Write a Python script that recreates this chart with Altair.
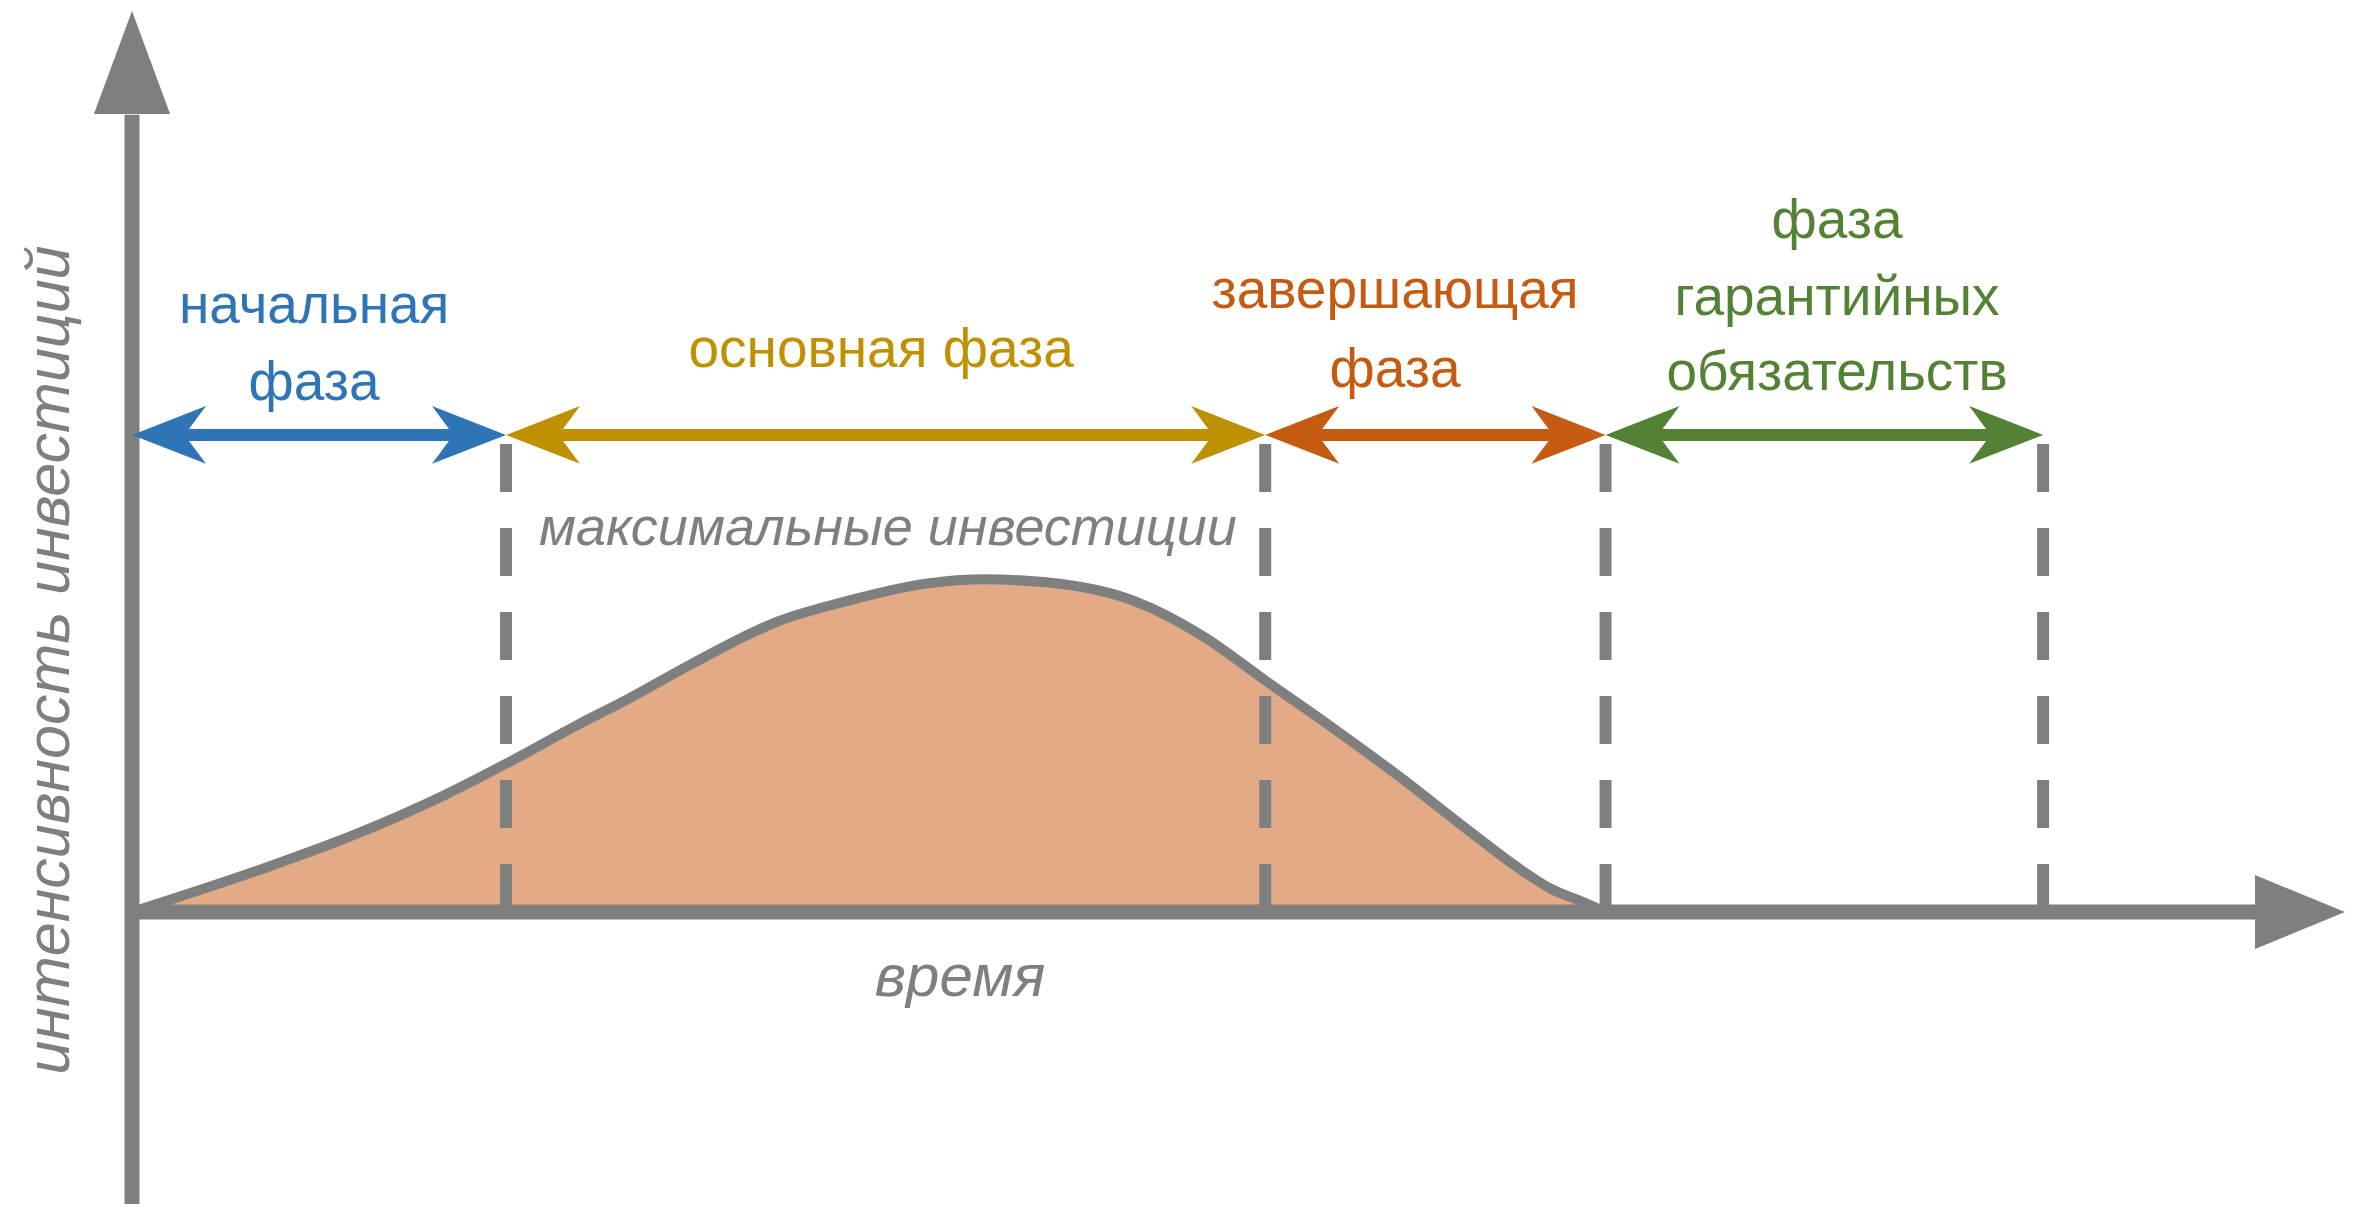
import altair as alt
import pandas as pd

# ---------------- data ----------------
# investment-intensity curve (time units: phase 1 ends at 10; intensity: peak ~100)
curve_time = [0.0, 3.61, 6.02, 8.39, 9.99, 11.99, 13.32, 14.93, 17.29, 19.06, 21.23, 22.79,
              24.44, 26.84, 28.65, 30.33, 32.10, 33.91, 35.71, 37.04, 37.92, 38.80, 39.40]
curve_intensity = [0.0, 13.5, 23.6, 35.4, 44.6, 56.8, 64.5, 74.5, 87.6, 93.5, 98.9, 100.2,
                   99.3, 93.5, 83.0, 69.5, 55.5, 40.6, 24.8, 13.5, 7.1, 3.0, 0.0]

phase_names = ["начальная фаза", "основная фаза", "завершающая фаза", "фаза гарантийных обязательств"]
phase_start = [0.0, 10.0, 30.3, 39.4]
phase_end = [10.0, 30.3, 39.4, 51.1]
phase_colors = ["#2E75B6", "#BF9000", "#C55A11", "#548235"]

label_text = ["начальная", "фаза", "основная фаза", "завершающая", "фаза",
              "фаза", "гарантийных", "обязательств"]
label_phase = [0, 0, 1, 2, 2, 3, 3, 3]
label_time = [4.87, 4.87, 20.03, 33.77, 33.77, 45.59, 45.59, 45.59]
label_level = [177.4, 154.2, 164.2, 181.9, 158.1, 203.0, 179.8, 157.2]

ARROW_LEVEL = 143.7
DASH_TOP = 141.0

note_text = ["максимальные инвестиции", "время"]
note_time = [20.21, 22.14]
note_level = [110.5, -25.3]
note_size = [54, 60]

y_title = "интенсивность инвестиций"
y_title_time = -1.68
y_title_level = 75.9

# ---------------- layout ----------------
W, H = 2337, 1196
T_MIN, T_MAX = -3.3155, 59.171
I_MIN, I_MAX = -87.95, 272.29
px_t = W / (T_MAX - T_MIN)
px_i = H / (I_MAX - I_MIN)

GRAY = "#7F7F7F"
FILL = "#E2AA85"
FONT = "Liberation Sans, Arial, sans-serif"

xs = alt.Scale(domain=[T_MIN, T_MAX], nice=False, zero=False)
ys = alt.Scale(domain=[I_MIN, I_MAX], nice=False, zero=False)
X = lambda f: alt.X(f, type="quantitative", scale=xs, axis=None)
Y = lambda f: alt.Y(f, type="quantitative", scale=ys, axis=None)
color_scale = alt.Scale(domain=phase_names, range=phase_colors)
C = lambda: alt.Color("phase:N", scale=color_scale, legend=None)

curve = pd.DataFrame({"t": curve_time, "i": curve_intensity})
phases = pd.DataFrame({"phase": phase_names, "start": phase_start, "end": phase_end,
                       "level": [ARROW_LEVEL] * 4})
bounds = pd.DataFrame({"t": phase_end, "top": [DASH_TOP] * 4, "bottom": [0.0] * 4})
labels = pd.DataFrame({"text": label_text, "phase": [phase_names[k] for k in label_phase],
                       "t": label_time, "i": label_level})
notes = pd.DataFrame({"text": note_text, "t": note_time, "i": note_level, "s": note_size})
ytitle = pd.DataFrame({"text": [y_title], "t": [y_title_time], "i": [y_title_level]})

# axes extents
x_tip = T_MAX
x_head_len = 90
x_base = x_tip - x_head_len / px_t
y_tip = I_MAX - 3 / px_i
y_head_len = 103
y_base = y_tip - y_head_len / px_i

axes_lines = pd.DataFrame({"t": [0.0, 0.0], "t2": [x_base + 0.2, 0.0],
                           "i": [0.0, I_MIN], "i2": [0.0, y_base - 0.2]})
x_head_df = pd.DataFrame({"t": [x_tip], "i": [0.0]})
y_head_df = pd.DataFrame({"t": [0.0], "i": [y_tip]})

LEFT_HEAD = "M0,0 L1,-0.39 L0.71,0 L1,0.39 Z"
RIGHT_HEAD = "M0,0 L-1,-0.39 L-0.71,0 L-1,0.39 Z"
X_HEAD = "M0,0 L-1,-0.41 L-1,0.41 Z"
Y_HEAD = "M0,0 L0.37,1 L-0.37,1 Z"
HEAD_SIZE = 148 ** 2

area = alt.Chart(curve).mark_area(color=FILL, interpolate="monotone", opacity=1).encode(
    x=X("t"), y=Y("i"), y2=alt.datum(0))
line = alt.Chart(curve).mark_line(color=GRAY, strokeWidth=10, interpolate="monotone",
                                  strokeJoin="round").encode(x=X("t"), y=Y("i"))
dashes = alt.Chart(bounds).mark_rule(color=GRAY, strokeWidth=12, strokeDash=[48, 36]).encode(
    x=X("t"), y=Y("top"), y2="bottom")
ax_lines = alt.Chart(axes_lines).mark_rule(color=GRAY, strokeWidth=15).encode(
    x=X("t"), x2="t2", y=Y("i"), y2="i2")
x_head = alt.Chart(x_head_df).mark_point(shape=X_HEAD, size=(2 * x_head_len) ** 2, filled=True,
                                         opacity=1, color=GRAY, strokeWidth=0).encode(x=X("t"), y=Y("i"))
y_head = alt.Chart(y_head_df).mark_point(shape=Y_HEAD, size=(2 * y_head_len) ** 2, filled=True,
                                         opacity=1, color=GRAY, strokeWidth=0).encode(x=X("t"), y=Y("i"))

arrow_lines = alt.Chart(phases).mark_rule(strokeWidth=12, xOffset=45, x2Offset=-45).encode(
    x=X("start"), x2="end", y=Y("level"), color=C())
left_heads = alt.Chart(phases).mark_point(shape=LEFT_HEAD, size=HEAD_SIZE, filled=True, opacity=1,
                                          strokeWidth=0).encode(x=X("start"), y=Y("level"), color=C())
right_heads = alt.Chart(phases).mark_point(shape=RIGHT_HEAD, size=HEAD_SIZE, filled=True, opacity=1,
                                           strokeWidth=0).encode(x=X("end"), y=Y("level"), color=C())

label_marks = alt.Chart(labels).mark_text(font=FONT, fontSize=55, align="center",
                                          baseline="alphabetic").encode(
    x=X("t"), y=Y("i"), text="text:N", color=C())
note_marks = alt.Chart(notes).mark_text(font=FONT, fontStyle="italic", color=GRAY,
                                        align="center", baseline="alphabetic").encode(
    x=X("t"), y=Y("i"), text="text:N",
    size=alt.Size("s:Q", scale=None, legend=None))
ytitle_mark = alt.Chart(ytitle).mark_text(font=FONT, fontSize=61, fontStyle="italic", color=GRAY,
                                          align="center", baseline="alphabetic", angle=270).encode(
    x=X("t"), y=Y("i"), text="text:N")

chart = alt.layer(area, dashes, line, ax_lines, x_head, y_head, arrow_lines, left_heads, right_heads,
                  label_marks, note_marks, ytitle_mark).properties(
    width=W, height=H, autosize=alt.AutoSizeParams(type="none"), padding=0
).configure_view(strokeWidth=0)

chart.save("out.html", embed_options={"renderer": "svg", "actions": False})
